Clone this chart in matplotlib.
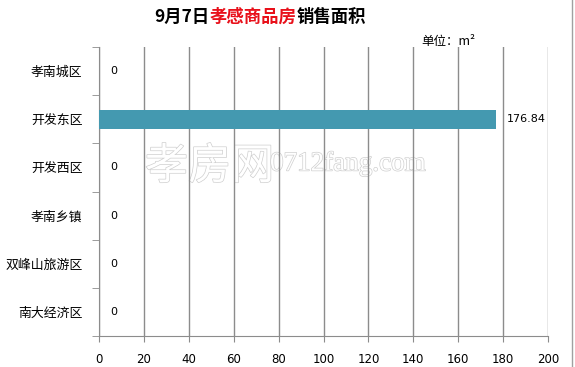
import numpy as np
import matplotlib.pyplot as plt
import matplotlib.patheffects as pe

plt.rcParams['font.family'] = ['Noto Sans CJK SC', 'DejaVu Sans']

districts = ['孝南城区', '开发东区', '开发西区', '孝南乡镇', '双峰山旅游区', '南大经济区']
areas = [0, 176.84, 0, 0, 0, 0]
value_text = ['0', '176.84', '0', '0', '0', '0']
xticks = np.arange(0, 201, 20)

bar_color = '#4499b0'
grid_color = '#8c8c8c'

fig = plt.figure(figsize=(5.75, 3.67), dpi=100)
ax = fig.add_axes([99/575, 31/367, 449/575, 289/367])

y = np.arange(len(districts))
ax.barh(y, areas, height=0.4, color=bar_color, zorder=3)
for yi, v, t in zip(y, areas, value_text):
    ax.annotate(t, (v, yi), xytext=(8, 0), textcoords='offset points',
                va='center', ha='left', fontsize=8, family='DejaVu Sans', zorder=4)

ax.set_xlim(0, 200)
ax.set_ylim(len(districts) - 0.5, -0.5)
ax.set_xticks(xticks)
ax.set_xticklabels([str(v) for v in xticks], family='DejaVu Sans', fontsize=8.5)
ax.set_yticks(y)
ax.set_yticklabels(districts, fontsize=9.3)
ax.set_yticks(np.arange(-0.5, len(districts), 1), minor=True)
ax.tick_params(axis='y', which='major', length=0, pad=12)
ax.tick_params(axis='y', which='minor', length=5, color=grid_color, direction='out')
ax.tick_params(axis='x', length=4, color=grid_color, direction='out', pad=8)
ax.grid(axis='x', color=grid_color, linewidth=1, zorder=1)
ax.set_axisbelow(False)
for s in ['top', 'right']:
    ax.spines[s].set_visible(False)
for s in ['left', 'bottom']:
    ax.spines[s].set_color(grid_color)

# watermark (grid lines run over it)
ax.text(145/575, 200/367, '孝房网', transform=fig.transFigure, fontsize=31,
        color='white', va='center', ha='left', zorder=0.5,
        path_effects=[pe.withStroke(linewidth=1.0, foreground='#cfcfcf')])
ax.text(270/575, 203/367, '0712fang.com', transform=fig.transFigure, fontsize=19.5,
        family='Liberation Serif', color='white', va='center', ha='left', zorder=0.5,
        path_effects=[pe.withStroke(linewidth=1.0, foreground='#cfcfcf')])

# title in three colours
renderer = fig.canvas.get_renderer()
parts = [('9月7日', 'black'), ('孝感商品房', '#e8101a'), ('销售面积', 'black')]
texts = []
for s, c in parts:
    texts.append(fig.text(0, 350/367, s, color=c, fontsize=12.5, fontweight='bold', va='center'))
widths = [t.get_window_extent(renderer).width for t in texts]
x0 = 260 - sum(widths) / 2
for t, w in zip(texts, widths):
    t.set_x(x0 / 575)
    x0 += w

fig.text(475/575, 325/367, '单位：m²', fontsize=9, ha='right', va='center')
fig.add_artist(plt.Line2D([572/575, 572/575], [0, 1], color='#a0a0a0', linewidth=1))

plt.savefig('out.png', dpi=100)
